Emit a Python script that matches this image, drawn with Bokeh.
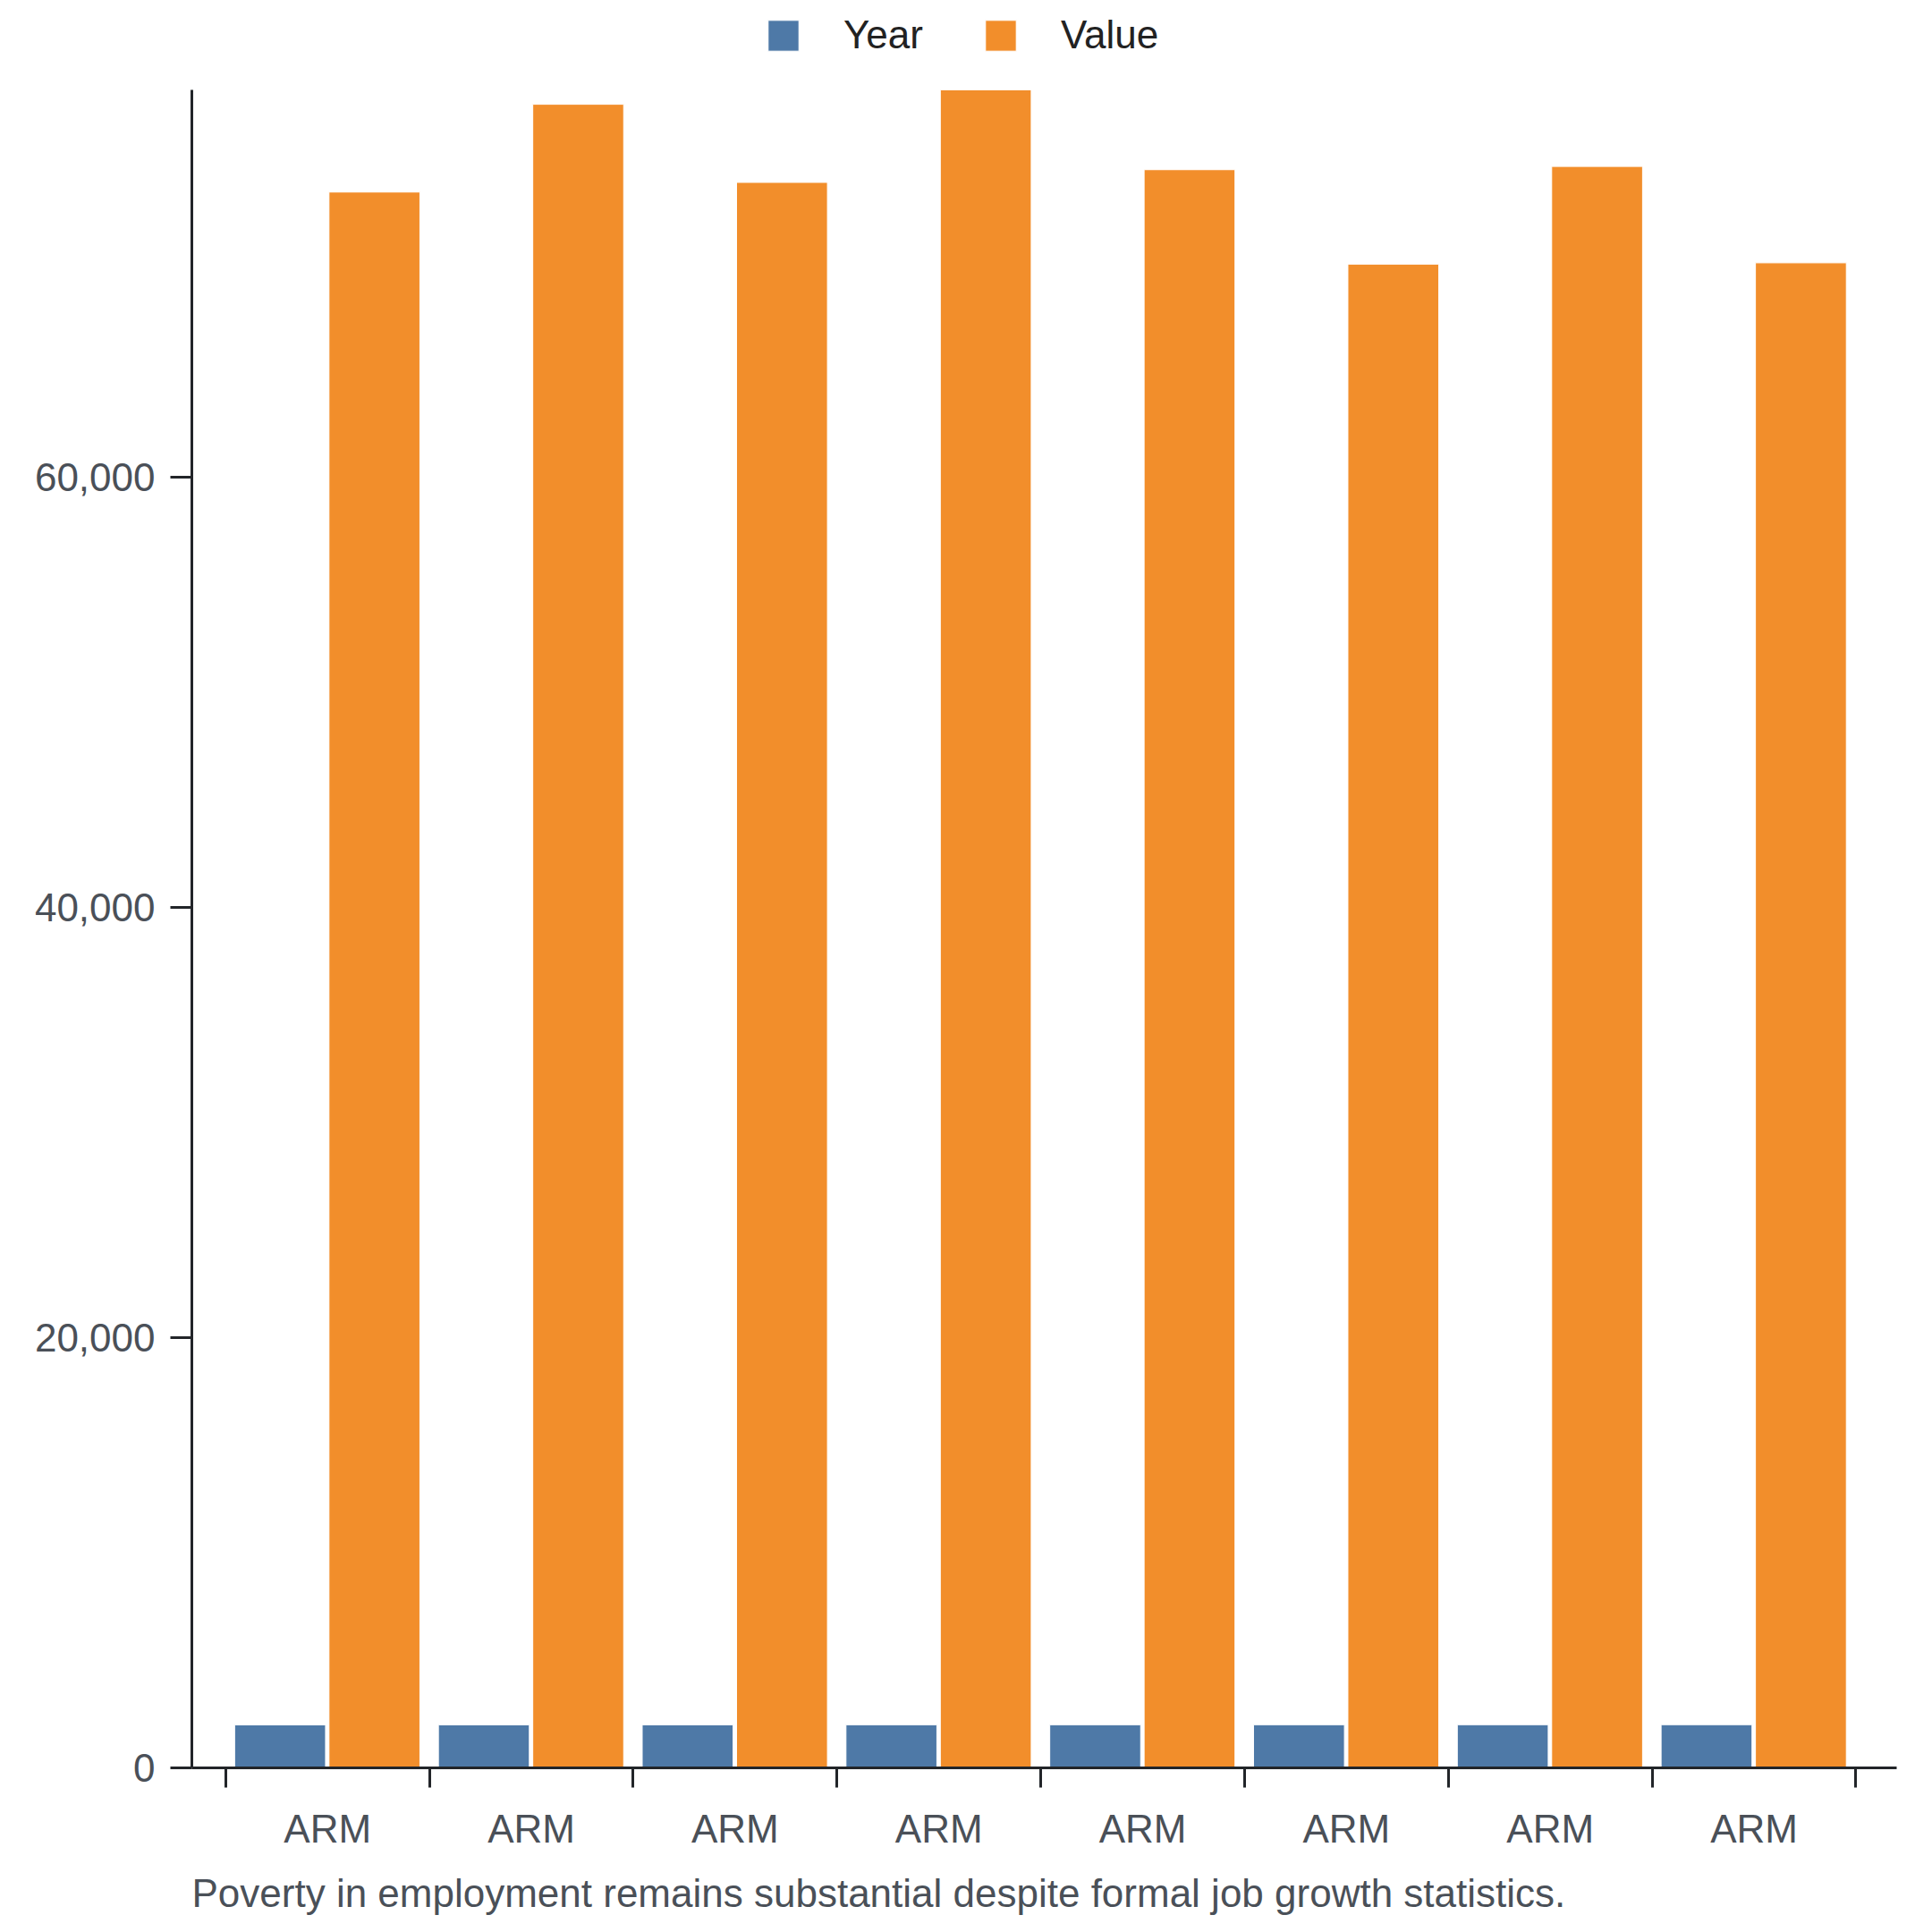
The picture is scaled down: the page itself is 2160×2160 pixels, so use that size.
from bokeh.plotting import figure
from bokeh.models import (ColumnDataSource, Range1d, FixedTicker, NumeralTickFormatter,
                          Legend, LegendItem, Title)
from bokeh.embed import file_html
from bokeh.resources import INLINE

# ---- data ----
countries = ["ARM", "ARM", "ARM", "ARM", "ARM", "ARM", "ARM", "ARM"]
years = [2000, 2001, 2002, 2003, 2004, 2005, 2006, 2007]
values = [73250, 77330, 73700, 78000, 74290, 69900, 74440, 69960]
y_ticks = [0, 20000, 40000, 60000]
caption = "Poverty in employment remains substantial despite formal job growth statistics."

BLUE = "#4e79a7"
ORANGE = "#f28e2b"
FONT = "Liberation Sans"
AXIS_COLOR = "#222529"
LABEL_COLOR = "#4a5058"

n = len(countries)
idx = list(range(n))
src = ColumnDataSource(dict(
    year_x=[i + 0.267 for i in idx],
    value_x=[i + 0.730 for i in idx],
    year=years,
    value=values,
))

W, H = 2144, 2160
FRAME_TOP, AXIS_TOP, FRAME_BOTTOM = 0, 100, 1976
ymax = max(values)
# frame reaches the top of the canvas so the legend can sit inside it;
# the y axis line itself is bounded to the data range
y_end = ymax * (FRAME_BOTTOM - FRAME_TOP) / (FRAME_BOTTOM - AXIS_TOP)

p = figure(width=W, height=H, output_backend="svg", toolbar_location=None,
           x_range=Range1d(-0.166, 8.20), y_range=Range1d(0, y_end),
           min_border_left=214, min_border_right=24, min_border_top=FRAME_TOP,
           min_border_bottom=H - FRAME_BOTTOM)
p.outline_line_color = None
p.grid.grid_line_color = None
p.background_fill_color = "white"

r_year = p.vbar(x="year_x", top="year", width=0.446, bottom=0, source=src,
                fill_color=BLUE, line_color="white", line_width=1)
r_val = p.vbar(x="value_x", top="value", width=0.446, bottom=0, source=src,
               fill_color=ORANGE, line_color="white", line_width=1)

# x axis: boundary ticks (minor), labels at group centres
xa = p.xaxis[0]
centers = [i + 0.5 for i in idx]
xa.ticker = FixedTicker(ticks=centers, minor_ticks=list(range(n + 1)))
xa.major_label_overrides = {c: countries[i] for i, c in enumerate(centers)}
xa.major_tick_line_color = None
xa.major_tick_out = 22
xa.major_tick_in = 0
xa.minor_tick_out = 22
xa.minor_tick_in = 0
xa.minor_tick_line_width = 3
xa.minor_tick_line_color = AXIS_COLOR
xa.axis_line_width = 3
xa.axis_line_color = AXIS_COLOR
xa.major_label_standoff = 21
xa.major_label_text_font = FONT
xa.major_label_text_font_size = "44px"
xa.major_label_text_color = LABEL_COLOR

ya = p.yaxis[0]
ya.bounds = (0, ymax)
ya.ticker = FixedTicker(ticks=y_ticks)
ya.formatter = NumeralTickFormatter(format="0,0")
ya.minor_tick_line_color = None
ya.major_tick_out = 24
ya.major_tick_in = 0
ya.major_tick_line_width = 3
ya.major_tick_line_color = AXIS_COLOR
ya.axis_line_width = 3
ya.axis_line_color = AXIS_COLOR
ya.major_label_standoff = 17
ya.major_label_text_font = FONT
ya.major_label_text_font_size = "44px"
ya.major_label_text_color = LABEL_COLOR

legend = Legend(items=[LegendItem(label="Year", renderers=[r_year]),
                       LegendItem(label="Value", renderers=[r_val])],
                orientation="horizontal", location=(640, 1912),
                glyph_width=43, glyph_height=43, label_height=43,
                label_standoff=46, spacing=65, padding=0, margin=0,
                border_line_color=None, background_fill_alpha=0,
                label_text_font=FONT, label_text_font_size="44px",
                label_text_color="#222222")
p.add_layout(legend, "center")

cap = Title(text=caption, align="left", text_font=FONT, text_font_size="44px",
            text_font_style="normal", text_color=LABEL_COLOR, standoff=37)
p.add_layout(cap, "below")

open("out.html", "w").write(file_html(p, INLINE))
